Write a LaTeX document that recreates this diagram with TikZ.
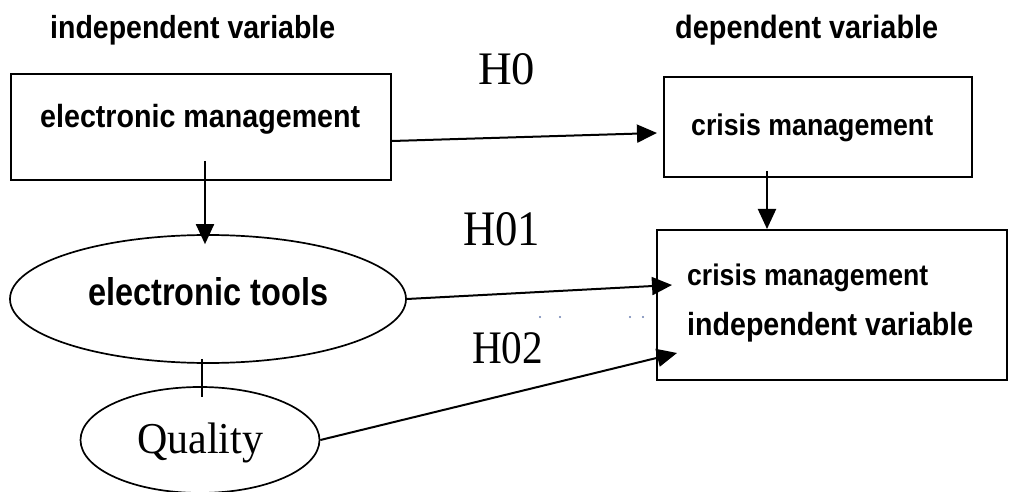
\documentclass[tikz,border=0pt]{standalone}
\usepackage{fontspec}
\setmainfont{Liberation Serif}
\setsansfont{Liberation Sans}
\usepackage{graphicx}
\usetikzlibrary{arrows.meta,calc,shapes.geometric}
\newcommand{\sbx}[2]{\scalebox{1}[1.12]{\resizebox{#1}{!}{\sffamily\bfseries #2}}}
\newcommand{\hbx}[3]{\resizebox{#1}{#2}{\rmfamily #3}}
\definecolor{dotc}{HTML}{6B7FB0}
\begin{document}
\begin{tikzpicture}[x=1pt,y=-1pt,
  box/.style={draw,line width=2pt,inner sep=0},
  lbl/.style={anchor=base west,inner sep=0},
  arr/.style={line width=2pt,-{Triangle[length=20pt,width=18pt]}},
  oval/.style={draw,ellipse,line width=1.7pt,inner sep=0}]
\useasboundingbox (0,0) rectangle (1010,492);
% boxes
\node[box,minimum width=380pt,minimum height=106pt] (em) at (201,127) {};
\node[box,minimum width=308pt,minimum height=100pt] (cm) at (818,127) {};
\node[box,minimum width=350pt,minimum height=150pt] (cv) at (832,305) {};
% ellipses
\node[oval,minimum width=396pt,minimum height=128pt] (et) at (208,299) {};
\node[oval,minimum width=239pt,minimum height=106pt] (q) at (200,440) {};
% texts
\node[lbl] (hiv) at (50,39) {\sbx{285pt}{independent variable}};
\node[lbl] (hdv) at (675,39) {\sbx{263pt}{dependent variable}};
\node[lbl] (tem) at (40,128) {\sbx{320pt}{electronic management}};
\node[lbl] (tcm) at (691,136) {\sbx{242pt}{crisis management}};
\node[lbl] (tcv1) at (687,285) {\sbx{241pt}{crisis management}};
\node[lbl] (tcv2) at (687,335) {\sbx{286pt}{independent variable}};
\node[lbl] (tet) at (88,305) {\resizebox{240pt}{28pt}{\sffamily\bfseries electronic tools}};
\node[lbl] (tq) at (137,453) {\scalebox{1}[1.05]{\fontsize{42}{42}\selectfont Quality}};
\node[lbl] (h0) at (478,85) {\hbx{57pt}{31pt}{H0}};
\node[lbl] (h01) at (463,246) {\hbx{77pt}{33pt}{H01}};
\node[lbl] (h02) at (472,363) {\hbx{71pt}{31pt}{H02}};
% connectors
\draw[arr] ($(em.east)+(0,14)$) -- ($(cm.west)+(-6,6)$);
\draw[arr] ($(em.south)+(4,-20)$) -- ($(et.north)+(-3,10)$);
\draw[arr] ($(cm.south)+(-51,-7)$) -- ($(cv.north)+(-65,0)$);
\draw[arr] (et.east) -- ($(cv.west)+(16,-20)$);
\draw[arr] (q.east) -- ($(cv.west)+(21,48)$);
\draw[line width=1.6pt] ($(et.south)+(-6,-5)$) -- ($(q.north)+(2,11)$);
% stray dots
\fill[dotc] (540,317) circle (1.2pt);
\fill[dotc] (560,317) circle (1.2pt);
\fill[dotc] (630,317) circle (1.2pt);
\fill[dotc] (643,317) circle (1.2pt);
\end{tikzpicture}
\end{document}
